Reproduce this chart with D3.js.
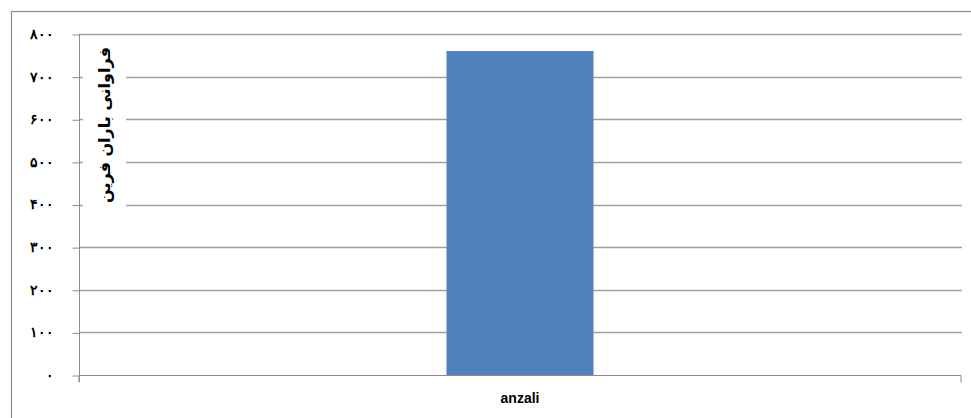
<!DOCTYPE html>
<html>
<head>
    <meta charset="utf-8">
    <style>
        body { margin: 0; background: #fff; }
        svg { display: block; font-family: Tahoma, 'DejaVu Sans', sans-serif; }
        .grid line { stroke: #a0a0a0; stroke-width: 1.3; }
        .y .tick text { font-size: 14px; font-weight: bold; fill: #000; }
        .x .tick text { font-size: 14px; font-weight: bold; fill: #000; }
        .axis .domain, .axis .tick line { stroke: #8c8c8c; }
    </style>
</head>
<body>
<svg width="971" height="418"></svg>
<script src="https://d3js.org/d3.v7.min.js"></script>
<script>
    // data
    let categories = ["anzali"];
    let values = [760];
    let yTicks = [0, 100, 200, 300, 400, 500, 600, 700, 800];
    let yTitle = "فراوانی باران فرین";

    let svg = d3.select("svg");
    let margin = { top: 34, right: 10, bottom: 43, left: 79 };
    let width = 961;
    let height = 418;

    // outer chart border
    svg.append("rect")
        .attr("x", 11.5).attr("y", 11.5)
        .attr("width", 975).attr("height", 430)
        .attr("fill", "none").attr("stroke", "#8c8c8c").attr("stroke-width", 1.2);

    let x = d3.scaleBand()
        .domain(categories)
        .range([margin.left, width]);

    let y = d3.scaleLinear()
        .domain([0, 800])
        .range([height - margin.bottom, margin.top]);

    // persian digits
    let fa = n => String(n).replace(/\d/g, c => "۰۱۲۳۴۵۶۷۸۹"[+c]);

    // gridlines
    svg.append("g")
        .attr("class", "grid")
        .selectAll("line")
        .data(yTicks.filter(d => d > 0))
        .join("line")
        .attr("x1", margin.left).attr("x2", width + 1)
        .attr("y1", d => Math.round(y(d)) + 0.5)
        .attr("y2", d => Math.round(y(d)) + 0.5);

    // bar, Excel gap width 500%
    let barW = x.bandwidth() / 6;
    svg.append("g")
        .selectAll("rect")
        .data(values)
        .join("rect")
        .attr("x", (d, i) => x(categories[i]) + x.bandwidth() / 2 - barW / 2)
        .attr("y", d => y(d))
        .attr("width", barW)
        .attr("height", d => y(0) - y(d))
        .attr("fill", "#4f81bd");

    // y axis
    svg.append("g")
        .attr("class", "y axis")
        .attr("transform", `translate(${margin.left + 0.5},0)`)
        .call(d3.axisLeft(y).tickValues(yTicks).tickSize(7).tickSizeOuter(0).tickPadding(19).tickFormat(fa))
        .call(g => g.selectAll(".tick line").attr("transform", "translate(0,0.5)"))
        .call(g => g.select(".domain").attr("d", `M0,${margin.top}V${y(0) + 7}`));

    // x axis
    svg.append("g")
        .attr("class", "x axis")
        .attr("transform", `translate(0,${Math.round(y(0)) + 0.5})`)
        .call(d3.axisBottom(x).tickSize(0).tickPadding(18))
        .call(g => g.select(".domain").attr("d", `M${margin.left},7V0H${width}V7`));

    // y title with white box
    let tg = svg.append("g")
        .attr("transform", `translate(104,125) rotate(-90)`);
    tg.append("rect")
        .attr("x", -84).attr("y", -21).attr("width", 168).attr("height", 43)
        .attr("fill", "#fff");
    tg.append("text")
        .attr("text-anchor", "middle")
        .attr("dy", "0.35em")
        .attr("direction", "rtl")
        .style("font-size", "16px")
        .style("font-weight", "bold")
        .text(yTitle);
</script>
</body>
</html>
